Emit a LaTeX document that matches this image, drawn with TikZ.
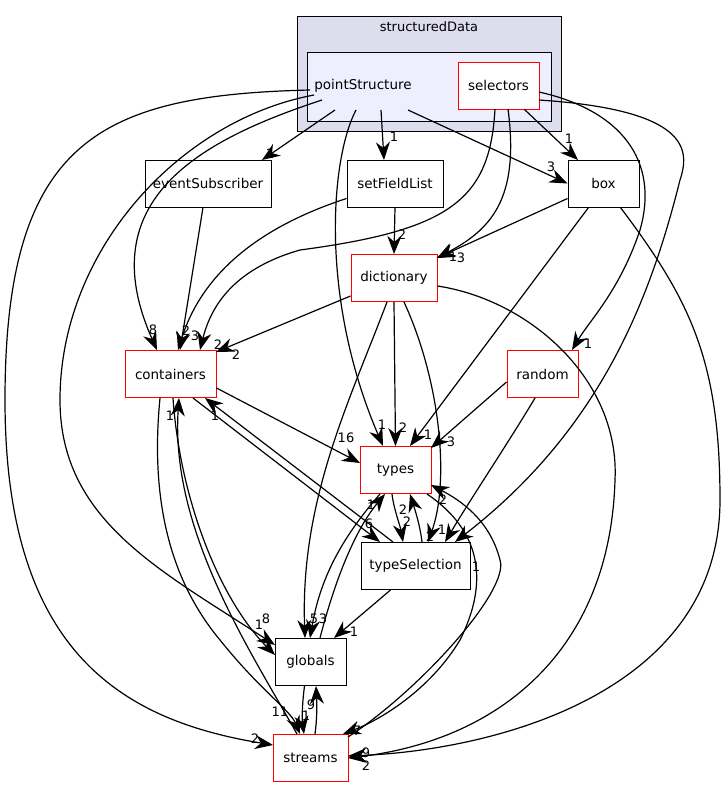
\documentclass[tikz,border=0pt]{standalone}
\usepackage{fontspec}
\setmainfont{DejaVu Sans}
\usetikzlibrary{arrows.meta}
\definecolor{clo}{RGB}{221,221,238}
\definecolor{cli}{RGB}{238,238,255}
\begin{document}
\begin{tikzpicture}[x=1pt,y=-1pt,
 box/.style={draw=black,line width=1pt,fill=white,minimum height=47pt,inner sep=0pt,font=\fontsize{13.5}{16}\selectfont},
 rbox/.style={box,draw=red},
 e/.style={draw=black,line width=1.2pt,-{Stealth[length=18pt,width=14pt]}},
 l/.style={font=\fontsize{13}{14}\selectfont,inner sep=1pt}]
\useasboundingbox (0,0) rectangle (723,788);
\draw[fill=clo,line width=0.9pt] (297,16) rectangle (561,131);
\node[font=\fontsize{13}{14}\selectfont] (sdl) at (429,27) {structuredData};
\draw[fill=cli,line width=1pt] (307,52) rectangle (551,121);
\node[font=\fontsize{13.5}{16}\selectfont] (ps) at (363,86) {pointStructure};
\node[rbox,minimum width=81pt] (sel) at (498.5,85.5) {selectors};
\node[box,minimum width=126pt] (ev) at (208,183.5) {eventSubscriber};
\node[box,minimum width=96pt] (sf) at (395,183.5) {setFieldList};
\node[box,minimum width=71pt] (bx) at (603.5,183.5) {box};
\node[rbox,minimum width=86pt] (dic) at (394,278) {dictionary};
\node[rbox,minimum width=91pt] (con) at (170.5,374) {containers};
\node[rbox,minimum width=71pt] (ran) at (542.5,374) {random};
\node[rbox,minimum width=71pt] (ty) at (395.5,470) {types};
\node[box,minimum width=109pt] (ts) at (415.5,566) {typeSelection};
\node[box,minimum width=71pt] (gl) at (310.5,662) {globals};
\node[rbox,minimum width=75pt] (st) at (310.5,758) {streams};
\coordinate (p1) at (335,110);
\coordinate (p2) at (381,110);
\coordinate (p3) at (408,110);
\coordinate (p4) at (356,110);
\coordinate (p5) at (322,100);
\coordinate (p6) at (314,95);
\coordinate (p7) at (310,90);
\coordinate (evt) at (262,160);
% pointStructure
\draw[e] (p1) -- (evt); \node[l] at (270,154) {1};
\draw[e] (p2) -- (384,160); \node[l] at (394,137) {1};
\draw[e] (p3) -- (bx.west); \node[l] at (551,167) {3};
\draw[e] (p4) .. controls (330,160) and (320,300) .. (383,446); \node[l] at (382,425) {1};
\draw[e] (p5) .. controls (200,140) and (90,200) .. (157,350); \node[l] at (153,330) {8};
\draw[e] (p6) .. controls (180,120) and (60,250) .. (60,400) .. controls (60,520) and (160,570) .. (275,645); \node[l] at (266,619) {8};
\draw[e] (p7) .. controls (100,95) and (5,140) .. (5,400) .. controls (5,650) and (120,720) .. (273,745); \node[l] at (255,739) {2};
% selectors
\draw[e] (sel.south east) ++(-15,0) -- (578,160); \node[l] at (569,139) {1};
\draw[e] (495,109) .. controls (490,200) and (450,230) .. (300,250) .. controls (230,270) and (210,310) .. (200,350); \node[l] at (218,345) {2};
\draw[e] (508,109) .. controls (520,200) and (490,230) .. (437,258);
\draw[e] (539,92) .. controls (620,110) and (660,160) .. (640,230) .. controls (620,290) and (590,320) .. (572,350); \node[l] at (588,344) {1};
\draw[e] (539,100) .. controls (690,110) and (690,150) .. (680,180) .. controls (650,300) and (600,430) .. (455,542); \node[l] at (476,567) {1};
% box
\draw[e] (bx.west) ++(0,15) -- (437,258); \node[l] at (461,258) {3};
\node[l] at (453,257) {1};
\draw[e] (bx.south) ++(-15,0) -- (410,446); \node[l] at (428,435) {1};
\draw[e] (bx.south) ++(17,0) .. controls (690,300) and (720,360) .. (720,500) .. controls (720,690) and (500,750) .. (348,756); \node[l] at (366,753) {9};
% setFieldList
\draw[e] (sf.south) -- (dic.north); \node[l] at (402,235) {2};
\draw[e] (sf.west) ++(0,15) .. controls (250,230) and (200,280) .. (178,350); \node[l] at (186,331) {2};
% eventSubscriber
\draw[e] (ev.south) ++(-5,0) -- (180,350); \node[l] at (195,336) {3};
% dictionary
\draw[e] (dic.west) ++(0,18) -- (216,352); \node[l] at (236,355) {2};
\draw[e] (dic.south) -- (ty.north); \node[l] at (403,428) {2};
\draw[e] (404,302) .. controls (440,380) and (450,480) .. (428,542); \node[l] at (442,530) {1};
\draw[e] (387,302) .. controls (350,400) and (300,500) .. (305,638); \node[l] at (314,619) {5};
\draw[e] (dic.east) ++(0,8) .. controls (530,300) and (620,380) .. (615,480) .. controls (610,650) and (500,740) .. (348,758); \node[l] at (366,766) {2};
% containers
\draw[e] (con.east) ++(0,14) -- (360,463); \node[l] at (346,438) {16};
\draw[e] (193,398) -- (380,542); \node[l] at (369,524) {6};
\draw[e] (393,542) -- (205,398); \node[l] at (215,416) {1};
\draw[e] (160,398) .. controls (150,500) and (170,580) .. (220,640) .. controls (260,690) and (290,710) .. (300,734); \node[l] at (280,712) {11};
\draw[e] (173,398) .. controls (180,500) and (220,600) .. (275,655); \node[l] at (259,625) {1};
\draw[e] (297,734) .. controls (250,650) and (170,530) .. (179,398); \node[l] at (170,416) {1};
% random
\draw[e] (ran.west) ++(0,8) -- (431,448); \node[l] at (451,442) {3};
\draw[e] (535,398) .. controls (510,440) and (470,500) .. (445,542); \node[l] at (430,537) {2};
% types
\draw[e] (392,494) .. controls (394,510) and (400,525) .. (403,542); \node[l] at (407,522) {2};
\draw[e] (422,542) .. controls (420,525) and (415,510) .. (410,494); \node[l] at (403,510) {2};
\draw[e] (427,494) .. controls (480,530) and (490,580) .. (460,640) .. controls (430,690) and (380,720) .. (343,734); \node[l] at (357,731) {7};
\draw[e] (348,737) .. controls (420,690) and (510,590) .. (500,560) .. controls (490,520) and (460,500) .. (431,485); \node[l] at (443,500) {2};
\draw[e] (380,494) .. controls (340,540) and (320,580) .. (310,638); \node[l] at (323,619) {3};
\draw[e] (320,638) .. controls (335,580) and (355,530) .. (385,494); \node[l] at (371,505) {1};
% typeSelection / globals / streams
\draw[e] (ts.south) ++(-25,0) -- (334,638); \node[l] at (354,632) {1};
\draw[e] (gl.south) ++(-6,0) .. controls (302,705) and (302,720) .. (304,734); \node[l] at (306,716) {1};
\draw[e] (315,734) .. controls (317,720) and (317,705) .. (316,686); \node[l] at (311,705) {9};
\end{tikzpicture}
\end{document}
